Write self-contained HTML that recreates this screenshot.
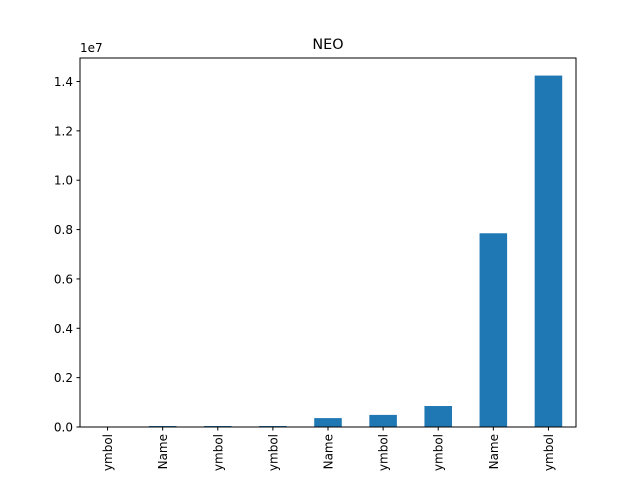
<!DOCTYPE html>
<html><head><meta charset="utf-8"><style>
body{margin:0;background:#fff}
svg{display:block;font-family:"DejaVu Sans","Liberation Sans",sans-serif}
</style></head><body>
<svg id="chart" width="640" height="480" viewBox="0 0 640 480">
<rect width="640" height="480" fill="#fff"/>
<text x="328" y="49" text-anchor="middle" font-size="14.4">NEO</text>
<g id="bars"></g>
<g id="yticks"></g>
<g id="xticks"></g>
<rect x="80" y="58" width="496" height="369" fill="none" stroke="#000" stroke-width="1"/>
<text x="80" y="52" font-size="12">1e7</text>
</svg>
<script>
const categories=["ymbol","Name","ymbol","ymbol","Name","ymbol","ymbol","Name","ymbol"];
const values=[3000,40000,40000,40000,360000,490000,850000,7850000,14240000];
const yTicks=[0,0.2e7,0.4e7,0.6e7,0.8e7,1.0e7,1.2e7,1.4e7];
const yTickLabels=["0.0","0.2","0.4","0.6","0.8","1.0","1.2","1.4"];
const L=80,R=576,T=58,B=427;
const ymax=Math.max(...values)*1.05;
const n=categories.length;
const x=i=>L+(i+0.5)/n*(R-L);
const y=v=>B-v/ymax*(B-T);
const bw=0.5/n*(R-L);
const ns="http://www.w3.org/2000/svg";
const bars=document.getElementById('bars'),yt=document.getElementById('yticks'),xt=document.getElementById('xticks');
values.forEach((v,i)=>{
const r=document.createElementNS(ns,'rect');
r.setAttribute('x',x(i)-bw/2);r.setAttribute('y',y(v));r.setAttribute('width',bw);r.setAttribute('height',B-y(v));r.setAttribute('fill','#1f77b4');


bars.appendChild(r);
const t=document.createElementNS(ns,'line');
t.setAttribute('x1',x(i));t.setAttribute('x2',x(i));t.setAttribute('y1',B);t.setAttribute('y2',B+3.5);t.setAttribute('stroke','#000');


xt.appendChild(t);
const tx=document.createElementNS(ns,'text');
tx.setAttribute('transform','translate('+(x(i)+4.5)+','+(B+7)+') rotate(-90)');
tx.setAttribute('text-anchor','end');tx.setAttribute('font-size','12');tx.textContent=categories[i];


xt.appendChild(tx);
});
yTicks.forEach((v,i)=>{
const t=document.createElementNS(ns,'line');
t.setAttribute('x1',L-3.5);t.setAttribute('x2',L);t.setAttribute('y1',y(v));t.setAttribute('y2',y(v));t.setAttribute('stroke','#000');


yt.appendChild(t);
const tx=document.createElementNS(ns,'text');
tx.setAttribute('x',L-7);tx.setAttribute('y',y(v)+4.5);tx.setAttribute('text-anchor','end');tx.setAttribute('font-size','12');tx.textContent=yTickLabels[i];


yt.appendChild(tx);
});
</script>
</body></html>
